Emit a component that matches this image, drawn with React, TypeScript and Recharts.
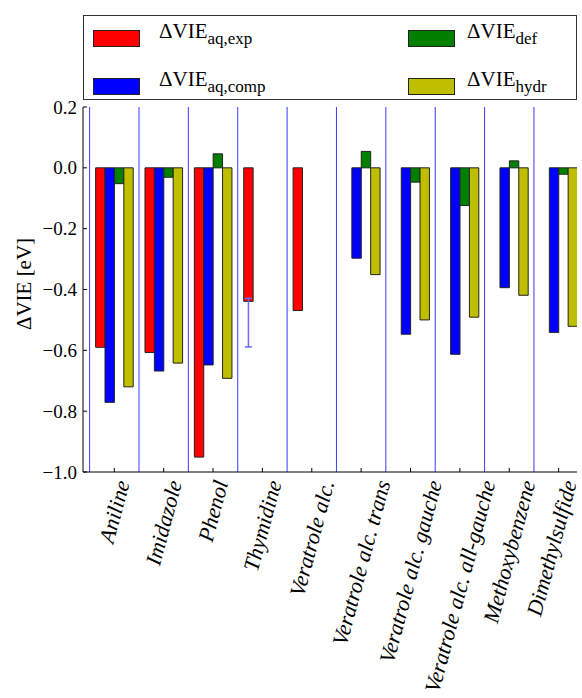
import React from "react";
import { Bar, BarChart, ErrorBar, Legend, ReferenceLine, XAxis, YAxis } from "recharts";

// ΔVIE-Beiträge pro Molekül (eV)
const molecules = [
  "Aniline",
  "Imidazole",
  "Phenol",
  "Thymidine",
  "Veratrole alc.",
  "Veratrole alc. trans",
  "Veratrole alc. gauche",
  "Veratrole alc. all-gauche",
  "Methoxybenzene",
  "Dimethylsulfide",
];
const aqExp = [-0.59, -0.607, -0.951, -0.439, -0.469, null, null, null, null, null];
const aqComp = [-0.771, -0.668, -0.648, null, null, -0.297, -0.547, -0.613, -0.394, -0.541];
const def = [-0.052, -0.031, 0.046, null, null, 0.054, -0.047, -0.124, 0.023, -0.021];
const hydr = [-0.72, -0.642, -0.692, null, null, -0.351, -0.5, -0.491, -0.419, -0.521];
// asymmetrischer Fehler [nach unten, nach oben] nur für Thymidine
const aqExpErr = [null, null, null, [0.15, 0.01], null, null, null, null, null, null];

const yTicks = [-1.0, -0.8, -0.6, -0.4, -0.2, 0.0, 0.2];
const xTicks = molecules.map((_, i) => i);
const separators = molecules.map((_, i) => i - 0.5);

const series = [
  { key: "aqExp", sub: "aq,exp", color: "#ff0000" },
  { key: "aqComp", sub: "aq,comp", color: "#0000ff" },
  { key: "def", sub: "def", color: "#008000" },
  { key: "hydr", sub: "hydr", color: "#bfbf00" },
];

const data = molecules.map((name, i) => ({
  x: i,
  name,
  aqExp: aqExp[i],
  aqComp: aqComp[i],
  def: def[i],
  hydr: hydr[i],
  aqExpErr: aqExpErr[i] ?? undefined,
}));

const FONT = '"Liberation Serif", "Times New Roman", serif';
const EDGE = "#222";
const SEP = "#3a3aff";
const X_FONT = 22;
const ANGLE = 75;

let ctx: CanvasRenderingContext2D | null = null;
function textWidth(s: string, font: string) {
  if (!ctx) ctx = document.createElement("canvas").getContext("2d");
  if (!ctx) return s.length * 9;
  ctx.font = font;
  return ctx.measureText(s).width;
}

const minus = (v: number) => v.toFixed(1).replace("-", "\u2212");

function BottomTick(props: any) {
  const { x, y, payload } = props;
  const label = molecules[payload.value] ?? "";
  const L = textWidth(label, `italic ${X_FONT}px "Liberation Serif"`);
  const th = (ANGLE * Math.PI) / 180;
  const H = 14;
  const boxH = L * Math.sin(th) + H * Math.cos(th);
  const cy = y + 7 + boxH / 2;
  // letztes Label etwas nach links, damit es nicht am Rand abgeschnitten wird
  const cx = payload.value === molecules.length - 1 ? x - 7 : x;
  return (
    <g>
      <line x1={x} x2={x} y1={y} y2={y - 4} stroke="#000" />
      <text
        x={cx}
        y={cy}
        transform={`rotate(-${ANGLE} ${cx} ${cy})`}
        textAnchor="middle"
        dominantBaseline="central"
        fontFamily={FONT}
        fontStyle="italic"
        fontSize={X_FONT}
        fill="#000"
      >
        {label}
      </text>
    </g>
  );
}

function TopTick(props: any) {
  const { x, y } = props;
  return <line x1={x} x2={x} y1={y} y2={y + 4} stroke="#000" />;
}

function LeftTick(props: any) {
  const { x, y, payload } = props;
  return (
    <g>
      <line x1={x} x2={x + 4} y1={y} y2={y} stroke="#000" />
      <text
        x={x - 6}
        y={y}
        textAnchor="end"
        dominantBaseline="central"
        fontFamily={FONT}
        fontSize={19}
        fill="#000"
      >
        {minus(payload.value)}
      </text>
    </g>
  );
}

function RightTick(props: any) {
  const { x, y } = props;
  return <line x1={x} x2={x - 4} y1={y} y2={y} stroke="#000" />;
}

function YLabel() {
  const cx = 24;
  const cy = 284;
  return (
    <text
      x={cx}
      y={cy}
      transform={`rotate(-90 ${cx} ${cy})`}
      textAnchor="middle"
      dominantBaseline="central"
      fontFamily={FONT}
      fontSize={21}
      fill="#000"
    >
      ΔVIE [eV]
    </text>
  );
}

function LegendBox() {
  const pos = [
    { sx: 9, tx: 75, y: 14 },
    { sx: 9, tx: 75, y: 62 },
    { sx: 324, tx: 383, y: 14 },
    { sx: 324, tx: 383, y: 62 },
  ];
  return (
    <div
      style={{
        position: "relative",
        width: 494,
        height: 85,
        border: "1px solid #333",
        boxSizing: "border-box",
        background: "#fff",
        fontFamily: FONT,
      }}
    >
      {series.map((s, i) => (
        <React.Fragment key={s.key}>
          <div
            style={{
              position: "absolute",
              left: pos[i].sx,
              top: pos[i].y,
              width: 47,
              height: 17,
              background: s.color,
              border: `1px solid ${EDGE}`,
              boxSizing: "border-box",
            }}
          />
          <div
            style={{
              position: "absolute",
              left: pos[i].tx,
              top: pos[i].y - 12,
              fontSize: 21,
              lineHeight: "26px",
              whiteSpace: "nowrap",
              color: "#000",
            }}
          >
            ΔVIE
            <span style={{ fontSize: 17, position: "relative", top: 6 }}>{s.sub}</span>
          </div>
        </React.Fragment>
      ))}
    </div>
  );
}

export default function App() {
  return (
    <div style={{ position: "absolute", left: 0, top: 0, width: 582, height: 698, background: "#fff" }}>
      <BarChart
        width={582}
        height={698}
        data={data}
        margin={{ top: 107, right: 5, bottom: 0, left: 0 }}
        barGap={0}
        barSize={9.4}
      >
        <XAxis
          xAxisId="b"
          dataKey="x"
          type="number"
          domain={[-0.634, 9.372]}
          allowDataOverflow
          ticks={xTicks}
          interval={0}
          height={226}
          tickSize={0}
          tickMargin={0}
          tickLine={false}
          axisLine={{ stroke: "#000" }}
          tick={<BottomTick />}
        />
        <XAxis
          xAxisId="t"
          orientation="top"
          type="number"
          domain={[-0.634, 9.372]}
          allowDataOverflow
          ticks={xTicks}
          interval={0}
          height={0}
          tickSize={0}
          tickMargin={0}
          tickLine={false}
          axisLine={{ stroke: "#000" }}
          tick={<TopTick />}
        />
        <YAxis
          yAxisId="l"
          type="number"
          domain={[-1, 0.2]}
          allowDataOverflow
          ticks={yTicks}
          interval={0}
          width={83}
          tickSize={0}
          tickMargin={0}
          tickLine={false}
          axisLine={{ stroke: "#000" }}
          tick={<LeftTick />}
          label={<YLabel />}
        />
        <YAxis
          yAxisId="r"
          orientation="right"
          type="number"
          domain={[-1, 0.2]}
          allowDataOverflow
          ticks={yTicks}
          interval={0}
          width={0}
          tickSize={0}
          tickMargin={0}
          tickLine={false}
          axisLine={{ stroke: "#000" }}
          tick={<RightTick />}
        />
        {separators.map((s) => (
          <ReferenceLine key={s} x={s} xAxisId="b" yAxisId="l" stroke={SEP} strokeWidth={1} />
        ))}
        {series.map((s) => (
          <Bar
            key={s.key}
            dataKey={s.key}
            xAxisId="b"
            yAxisId="l"
            fill={s.color}
            stroke={EDGE}
            strokeWidth={1}
            isAnimationActive={false}
          >
            {s.key === "aqExp" ? (
              <ErrorBar dataKey="aqExpErr" width={3.5} stroke="#6a6aff" strokeWidth={1.5} direction="y" />
            ) : null}
          </Bar>
        ))}
        <Legend
          layout="vertical"
          align="center"
          verticalAlign="middle"
          wrapperStyle={{ left: 83, top: 15, width: 494, height: 85 }}
          content={() => <LegendBox />}
        />
      </BarChart>
    </div>
  );
}
